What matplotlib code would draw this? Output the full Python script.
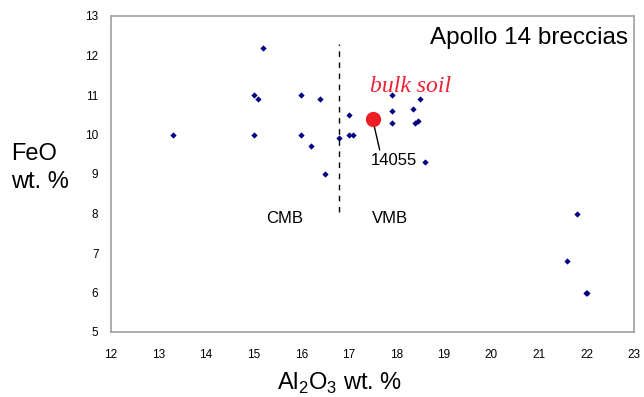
import matplotlib
matplotlib.use("Agg")
import matplotlib.pyplot as plt

plt.rcParams['font.family'] = ['Liberation Sans', 'DejaVu Sans']
plt.rcParams['mathtext.fontset'] = 'custom'
plt.rcParams['mathtext.rm'] = 'Liberation Sans'

# Breccia data (Al2O3 wt.%, FeO wt.%)
al2o3 = [13.3, 15.2, 15.0, 15.1, 15.0, 16.0, 16.0, 16.4, 16.2, 16.5, 16.8,
         17.0, 17.0, 17.1, 17.9, 18.5, 17.9, 18.35, 17.9, 18.4, 18.45, 18.6,
         21.8, 21.6, 22.0, 22.02]
feo = [10.0, 12.2, 11.0, 10.9, 10.0, 11.0, 10.0, 10.9, 9.7, 9.0, 9.9,
       10.5, 10.0, 10.0, 11.0, 10.9, 10.6, 10.65, 10.3, 10.3, 10.35, 9.3,
       8.0, 6.8, 6.0, 6.0]

bulk_soil_x = [17.5]
bulk_soil_y = [10.4]

divider_x = 16.8
divider_y = [8.05, 12.3]

x_ticks = list(range(12, 24))
y_ticks = list(range(5, 14))

fig = plt.figure(figsize=(6.44, 3.97), dpi=100)
ax = fig.add_axes([111/644, 1-332/397, (634-111)/644, (332-16)/397])

ax.plot(al2o3, feo, linestyle='none', marker='D', markersize=3.2,
        color='#000080', markeredgewidth=0)
ax.plot(bulk_soil_x, bulk_soil_y, linestyle='none', marker='o', markersize=11,
        color='#ee1c25', markeredgewidth=0, zorder=5)

ax.plot([divider_x, divider_x], divider_y, linestyle=(0, (4, 4)), color='black', linewidth=1)

ax.annotate('14055', xy=(17.5, 10.4), xytext=(17.47, 9.35),
            fontsize=12, va='center', ha='left',
            arrowprops=dict(arrowstyle='-', color='black', lw=1,
                            shrinkA=0, shrinkB=0,
                            relpos=(0.2, 1.0)))

ax.text(17.45, 11.21, 'bulk soil', color='#ee2233', fontsize=17,
        family=['Liberation Serif'], style='italic', va='center', ha='left')
ax.text(15.66, 7.88, 'CMB', fontsize=12, ha='center', va='center')
ax.text(17.49, 7.88, 'VMB', fontsize=12, ha='left', va='center')
ax.text(22.87, 12.44, 'Apollo 14 breccias', fontsize=17.5, ha='right', va='center')

ax.set_xlim(12, 23)
ax.set_ylim(5, 13)
ax.set_xticks(x_ticks)
ax.set_yticks(y_ticks)
ax.tick_params(axis='both', length=0, labelsize=8.5)
ax.tick_params(axis='x', pad=12)
ax.tick_params(axis='y', pad=9)
for s in ax.spines.values():
    s.set_color('#a0a0a0')
    s.set_linewidth(1.2)

fig.text(340/644, 1-383/397, r'Al$_\mathregular{2}$O$_\mathregular{3}$ wt. %',
         fontsize=17, ha='center', va='center')
fig.text(11/644, 1-154/397, 'FeO', fontsize=17, ha='left', va='center')
fig.text(11/644, 1-182/397, 'wt. %', fontsize=17, ha='left', va='center')

fig.savefig('out.png', dpi=100)
